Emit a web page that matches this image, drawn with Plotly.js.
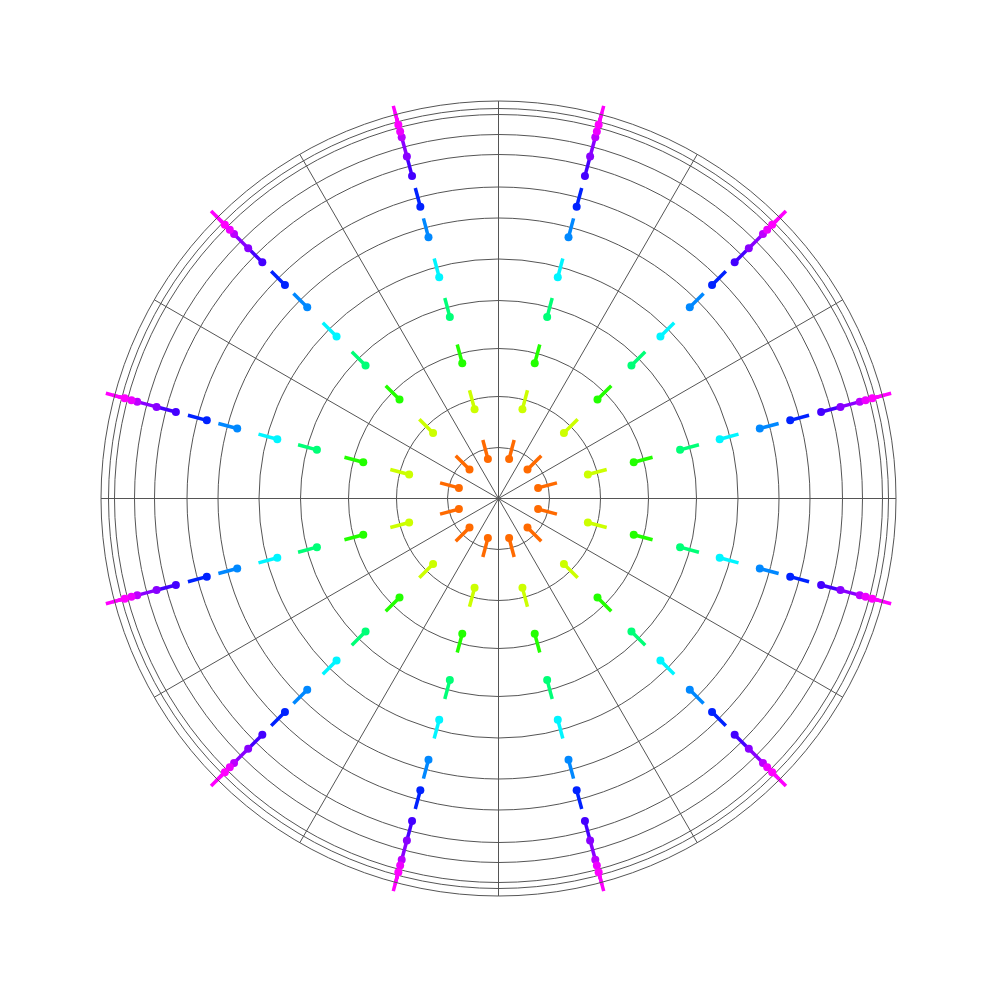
<!DOCTYPE html>
<html>
<head>
<meta charset="utf-8">
<script src="https://cdn.plot.ly/plotly-3.0.1.min.js"></script>
<style>html,body{margin:0;padding:0;background:#fff;}#chart{width:997px;height:997px;}</style>
</head>
<body>
<div id="chart"></div>
<script>
// Directions of the spokes of markers (degrees)
const angles = [15, 45, 75, 105, 135, 165, 195, 225, 255, 285, 315, 345];
// Radius of each ring of markers
const ringRadii = [4.1, 9.25, 14.0, 18.8, 22.9, 27.05, 30.2, 33.4, 35.4, 37.4, 38.0, 38.7];
// Colour of each ring
const ringColors = ['#ff6a00', '#ccff00', '#22ff00', '#00ff77', '#00f5ff', '#0088ff',
                    '#0022ff', '#4400ff', '#8800ff', '#bb00ff', '#ee00ff', '#ff00ff'];
// Length of the outward stick attached to each marker
const stickLength = 1.95;
// Radial grid circle positions
const gridRadii = [5.1, 10.2, 15.0, 19.8, 23.95, 28.05, 31.15, 34.4, 36.4, 38.4, 39.0];
const radialMax = 39.75;

const traces = [];
ringRadii.forEach((r, i) => {
  const rs = [], ts = [];
  angles.forEach(a => { rs.push(r, r + stickLength, null); ts.push(a, a, null); });
  traces.push({
    type: 'scatterpolar', mode: 'lines', r: rs, theta: ts,
    line: {color: ringColors[i], width: 3.5}, cliponaxis: false,
    hoverinfo: 'skip', connectgaps: false
  });
  traces.push({
    type: 'scatterpolar', mode: 'markers', r: angles.map(() => r), theta: angles,
    marker: {color: ringColors[i], size: 8, line: {width: 0}}, cliponaxis: false
  });
});

const layout = {
  width: 997, height: 997,
  margin: {l: 101, r: 101, t: 101, b: 101},
  paper_bgcolor: '#ffffff', plot_bgcolor: '#ffffff',
  showlegend: false,
  polar: {
    bgcolor: '#ffffff',
    domain: {x: [0, 1], y: [0, 1]},
    radialaxis: {
      range: [0, radialMax], tickmode: 'array', tickvals: gridRadii,
      showticklabels: false, ticks: '', showline: false,
      gridcolor: '#555555', gridwidth: 1
    },
    angularaxis: {
      rotation: 0, direction: 'counterclockwise', dtick: 30,
      showticklabels: false, ticks: '',
      showline: true, linecolor: '#555555', linewidth: 1,
      gridcolor: '#555555', gridwidth: 1
    }
  }
};

Plotly.newPlot('chart', traces, layout, {displayModeBar: false, staticPlot: true}).then(() => {
  // let the outward sticks extend past the outer circle, as in the original
  document.querySelectorAll('#chart .frontplot, #chart .frontplot *').forEach(el => {
    el.removeAttribute('clip-path');
  });
});
</script>
</body>
</html>
